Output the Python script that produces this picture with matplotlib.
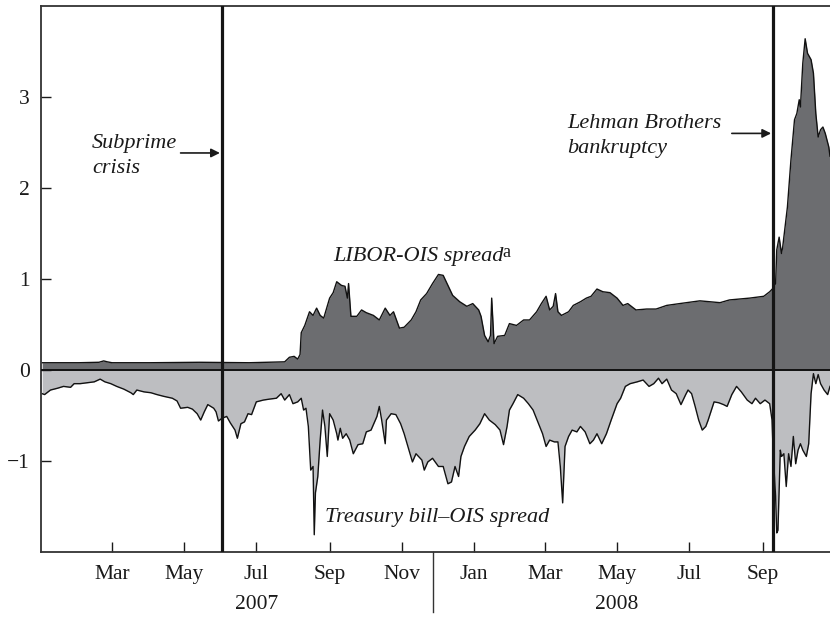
import pandas as pd
import matplotlib
matplotlib.use("Agg")
import matplotlib.pyplot as plt
import matplotlib.dates as mdates
from matplotlib.lines import Line2D

plt.rcParams["font.family"] = ["Liberation Serif", "DejaVu Serif"]
plt.rcParams["axes.unicode_minus"] = True

# ============================
# DATA (percentage points)
# ============================
libor_dates = [
    "2007-01-01", "2007-02-01", "2007-02-18", "2007-02-22", "2007-02-25", "2007-03-01",
    "2007-04-02", "2007-05-14", "2007-06-25", "2007-07-25", "2007-07-29", "2007-08-02",
    "2007-08-05", "2007-08-07", "2007-08-08", "2007-08-11", "2007-08-15", "2007-08-18",
    "2007-08-21", "2007-08-24", "2007-08-27", "2007-09-01", "2007-09-04", "2007-09-07",
    "2007-09-11", "2007-09-14", "2007-09-16", "2007-09-17", "2007-09-19", "2007-09-24",
    "2007-09-28", "2007-10-02", "2007-10-08", "2007-10-13", "2007-10-18", "2007-10-22",
    "2007-10-25", "2007-10-30", "2007-11-03", "2007-11-09", "2007-11-13", "2007-11-17",
    "2007-11-22", "2007-11-27", "2007-12-02", "2007-12-06", "2007-12-10", "2007-12-14",
    "2007-12-20", "2007-12-26", "2007-12-31", "2008-01-05", "2008-01-07", "2008-01-10",
    "2008-01-13", "2008-01-15", "2008-01-16", "2008-01-18", "2008-01-21", "2008-01-27",
    "2008-01-31", "2008-02-06", "2008-02-12", "2008-02-17", "2008-02-23", "2008-02-27",
    "2008-03-02", "2008-03-05", "2008-03-08", "2008-03-10", "2008-03-12", "2008-03-15",
    "2008-03-21", "2008-03-25", "2008-03-31", "2008-04-05", "2008-04-09", "2008-04-14",
    "2008-04-19", "2008-04-25", "2008-05-01", "2008-05-06", "2008-05-10", "2008-05-17",
    "2008-05-26", "2008-06-03", "2008-06-12", "2008-06-23", "2008-07-10", "2008-07-27",
    "2008-08-04", "2008-08-21", "2008-09-02", "2008-09-07", "2008-09-10", "2008-09-12",
    "2008-09-13", "2008-09-15", "2008-09-17", "2008-09-18", "2008-09-22", "2008-09-25",
    "2008-09-28", "2008-09-30", "2008-10-02", "2008-10-03", "2008-10-05", "2008-10-07",
    "2008-10-09", "2008-10-12", "2008-10-14", "2008-10-16", "2008-10-18", "2008-10-20",
    "2008-10-22", "2008-10-24", "2008-10-27", "2008-10-28",
]
libor_ois = [
    0.08, 0.08, 0.085, 0.10, 0.09, 0.08,
    0.08, 0.085, 0.08, 0.09, 0.14, 0.15,
    0.12, 0.17, 0.41, 0.49, 0.64, 0.60,
    0.68, 0.60, 0.57, 0.79, 0.85, 0.97,
    0.93, 0.92, 0.79, 0.95, 0.59, 0.59,
    0.66, 0.63, 0.60, 0.55, 0.68, 0.60,
    0.64, 0.46, 0.47, 0.55, 0.64, 0.77,
    0.84, 0.95, 1.05, 1.04, 0.93, 0.82,
    0.75, 0.70, 0.73, 0.66, 0.59, 0.38,
    0.31, 0.38, 0.79, 0.29, 0.37, 0.38,
    0.51, 0.49, 0.55, 0.55, 0.64, 0.73,
    0.81, 0.66, 0.70, 0.84, 0.64, 0.60,
    0.64, 0.71, 0.75, 0.79, 0.81, 0.89,
    0.86, 0.85, 0.79, 0.71, 0.73, 0.66,
    0.67, 0.67, 0.71, 0.73, 0.76, 0.74,
    0.77, 0.79, 0.81, 0.86, 0.90, 0.95,
    1.32, 1.46, 1.28, 1.35, 1.79, 2.31,
    2.75, 2.82, 2.97, 2.89, 3.37, 3.64,
    3.48, 3.41, 3.26, 2.82, 2.56, 2.64,
    2.67, 2.60, 2.45, 2.35,
]

tbill_dates = [
    "2007-01-01", "2007-01-03", "2007-01-08", "2007-01-14", "2007-01-19", "2007-01-25",
    "2007-01-28", "2007-02-02", "2007-02-08", "2007-02-14", "2007-02-19", "2007-02-23",
    "2007-02-28", "2007-03-05", "2007-03-11", "2007-03-17", "2007-03-19", "2007-03-22",
    "2007-03-28", "2007-04-03", "2007-04-08", "2007-04-14", "2007-04-21", "2007-04-25",
    "2007-04-28", "2007-05-04", "2007-05-08", "2007-05-12", "2007-05-15", "2007-05-18",
    "2007-05-21", "2007-05-26", "2007-05-28", "2007-05-30", "2007-06-02", "2007-06-06",
    "2007-06-09", "2007-06-13", "2007-06-15", "2007-06-18", "2007-06-21", "2007-06-24",
    "2007-06-27", "2007-07-01", "2007-07-07", "2007-07-12", "2007-07-18", "2007-07-22",
    "2007-07-25", "2007-07-29", "2007-08-01", "2007-08-05", "2007-08-08", "2007-08-10",
    "2007-08-12", "2007-08-14", "2007-08-16", "2007-08-18", "2007-08-19", "2007-08-20",
    "2007-08-22", "2007-08-24", "2007-08-26", "2007-08-28", "2007-08-30", "2007-09-01",
    "2007-09-04", "2007-09-07", "2007-09-08", "2007-09-10", "2007-09-12", "2007-09-15",
    "2007-09-18", "2007-09-21", "2007-09-25", "2007-09-29", "2007-10-02", "2007-10-06",
    "2007-10-11", "2007-10-13", "2007-10-15", "2007-10-18", "2007-10-19", "2007-10-23",
    "2007-10-27", "2007-10-31", "2007-11-03", "2007-11-08", "2007-11-10", "2007-11-13",
    "2007-11-18", "2007-11-20", "2007-11-23", "2007-11-27", "2007-12-02", "2007-12-06",
    "2007-12-10", "2007-12-13", "2007-12-16", "2007-12-19", "2007-12-21", "2007-12-24",
    "2007-12-28", "2008-01-02", "2008-01-06", "2008-01-10", "2008-01-14", "2008-01-19",
    "2008-01-23", "2008-01-26", "2008-01-29", "2008-01-31", "2008-02-03", "2008-02-07",
    "2008-02-12", "2008-02-16", "2008-02-20", "2008-02-24", "2008-02-28", "2008-03-02",
    "2008-03-05", "2008-03-09", "2008-03-12", "2008-03-14", "2008-03-16", "2008-03-18",
    "2008-03-21", "2008-03-24", "2008-03-28", "2008-03-31", "2008-04-04", "2008-04-08",
    "2008-04-11", "2008-04-14", "2008-04-18", "2008-04-22", "2008-04-26", "2008-05-01",
    "2008-05-04", "2008-05-08", "2008-05-12", "2008-05-18", "2008-05-23", "2008-05-28",
    "2008-06-01", "2008-06-05", "2008-06-08", "2008-06-12", "2008-06-16", "2008-06-20",
    "2008-06-24", "2008-06-28", "2008-06-30", "2008-07-03", "2008-07-06", "2008-07-09",
    "2008-07-12", "2008-07-15", "2008-07-17", "2008-07-22", "2008-07-26", "2008-07-30",
    "2008-08-02", "2008-08-06", "2008-08-10", "2008-08-14", "2008-08-19", "2008-08-23",
    "2008-08-26", "2008-08-30", "2008-09-03", "2008-09-07", "2008-09-09", "2008-09-10",
    "2008-09-12", "2008-09-13", "2008-09-14", "2008-09-16", "2008-09-17", "2008-09-19",
    "2008-09-21", "2008-09-23", "2008-09-25", "2008-09-27", "2008-09-29", "2008-10-01",
    "2008-10-03", "2008-10-05", "2008-10-08", "2008-10-10", "2008-10-12", "2008-10-14",
    "2008-10-16", "2008-10-18", "2008-10-20", "2008-10-23", "2008-10-26", "2008-10-28",
]
tbill_ois = [
    -0.26, -0.27, -0.22, -0.20, -0.18, -0.19,
    -0.15, -0.15, -0.14, -0.13, -0.10, -0.13,
    -0.15, -0.18, -0.21, -0.25, -0.27, -0.22,
    -0.24, -0.25, -0.27, -0.29, -0.31, -0.34,
    -0.42, -0.41, -0.43, -0.48, -0.55, -0.46,
    -0.38, -0.42, -0.46, -0.56, -0.53, -0.51,
    -0.58, -0.66, -0.75, -0.59, -0.57, -0.48,
    -0.49, -0.35, -0.33, -0.32, -0.31, -0.26,
    -0.33, -0.27, -0.37, -0.35, -0.31, -0.44,
    -0.42, -0.62, -1.10, -1.06, -1.81, -1.35,
    -1.17, -0.77, -0.44, -0.62, -0.95, -0.48,
    -0.55, -0.70, -0.77, -0.64, -0.75, -0.70,
    -0.77, -0.92, -0.82, -0.81, -0.68, -0.66,
    -0.51, -0.40, -0.55, -0.81, -0.55, -0.48,
    -0.49, -0.59, -0.70, -0.92, -1.01, -0.92,
    -0.99, -1.10, -1.01, -0.97, -1.06, -1.06,
    -1.25, -1.23, -1.06, -1.17, -0.95, -0.84,
    -0.73, -0.66, -0.59, -0.48, -0.55, -0.60,
    -0.66, -0.82, -0.62, -0.44, -0.37, -0.27,
    -0.31, -0.37, -0.44, -0.57, -0.70, -0.84,
    -0.77, -0.79, -0.79, -1.06, -1.46, -0.84,
    -0.73, -0.66, -0.68, -0.62, -0.68, -0.81,
    -0.77, -0.70, -0.81, -0.70, -0.55, -0.37,
    -0.31, -0.18, -0.15, -0.13, -0.11, -0.18,
    -0.15, -0.09, -0.15, -0.10, -0.22, -0.26,
    -0.38, -0.27, -0.22, -0.26, -0.40, -0.55,
    -0.66, -0.62, -0.55, -0.35, -0.36, -0.38,
    -0.40, -0.27, -0.18, -0.24, -0.33, -0.37,
    -0.31, -0.37, -0.33, -0.37, -0.55, -0.92,
    -1.39, -1.79, -1.76, -0.88, -0.95, -0.92,
    -1.28, -0.92, -1.06, -0.73, -1.03, -0.88,
    -0.81, -0.88, -0.95, -0.81, -0.26, -0.04,
    -0.15, -0.05, -0.15, -0.22, -0.27, -0.18,
]

event_dates = ["2007-06-02", "2008-09-10"]
month_ticks = ["2007-03-01", "2007-05-01", "2007-07-01", "2007-09-01", "2007-11-01",
               "2008-01-01", "2008-03-01", "2008-05-01", "2008-07-01", "2008-09-01"]
year_labels = ["2007", "2008"]
year_label_dates = ["2007-07-01", "2008-05-01"]
year_divider = "2007-11-27"

DARK = "#6c6d70"
LIGHT = "#bdbec1"

# ============================
# PLOT
# ============================
lib_x = pd.to_datetime(libor_dates)
tb_x = pd.to_datetime(tbill_dates)

fig = plt.figure(figsize=(8.30, 6.17), dpi=100)
ax = fig.add_axes([0.0494, 0.1053, 0.9506, 0.885])

ax.fill_between(lib_x, 0, libor_ois, color=DARK, linewidth=0, zorder=1)
ax.fill_between(tb_x, tbill_ois, 0, color=LIGHT, linewidth=0, zorder=1)
ax.plot(lib_x, libor_ois, color="#111111", lw=1.0, zorder=2)
ax.plot(tb_x, tbill_ois, color="#111111", lw=1.0, zorder=2)
ax.axhline(0, color="#111111", lw=1.4, zorder=3)

for d in event_dates:
    ax.axvline(pd.Timestamp(d), color="#151515", lw=2.3, zorder=4)

ax.set_xlim(pd.Timestamp("2006-12-31"), pd.Timestamp("2008-10-28"))
ax.set_ylim(-2, 4)

ax.set_yticks([-1, 0, 1, 2, 3])
ax.set_yticklabels(["\u22121", "0", "1", "2", "3"])
ax.set_xticks(pd.to_datetime(month_ticks))
ax.xaxis.set_major_formatter(mdates.DateFormatter("%b"))
ax.tick_params(axis="both", direction="in", length=7, width=1, labelsize=15.5,
               colors="#1a1a1a")
ax.tick_params(axis="x", pad=9)
ax.tick_params(axis="y", pad=8)

for side in ["left", "bottom", "top"]:
    ax.spines[side].set_color("#333333")
    ax.spines[side].set_linewidth(1.3)
ax.spines["right"].set_visible(False)

# year labels + divider under the axis
for lab, d in zip(year_labels, year_label_dates):
    ax.text(pd.Timestamp(d), -0.096, lab, transform=ax.get_xaxis_transform(),
            ha="center", va="center", fontsize=15.5, color="#1a1a1a")
ax.add_line(Line2D([pd.Timestamp(year_divider)] * 2, [0, -0.11],
                   transform=ax.get_xaxis_transform(), color="#333333",
                   lw=1.0, clip_on=False))

# annotations (va="baseline" pins the last line of a two-line label)
ax.text(pd.Timestamp("2007-02-12"), 2.165, "Subprime\ncrisis", style="italic",
        fontsize=16, ha="left", va="baseline", linespacing=1.42, color="#1a1a1a")
ax.annotate("", xy=(pd.Timestamp(event_dates[0]), 2.385),
            xytext=(pd.Timestamp("2007-04-28"), 2.385),
            arrowprops=dict(arrowstyle="-|>", color="#1a1a1a", lw=1.2,
                            mutation_scale=13, shrinkA=0, shrinkB=1.5))

ax.text(pd.Timestamp("2008-03-20"), 2.385, "Lehman Brothers\nbankruptcy", style="italic",
        fontsize=16, ha="left", va="baseline", linespacing=1.42, color="#1a1a1a")
ax.annotate("", xy=(pd.Timestamp(event_dates[1]), 2.60),
            xytext=(pd.Timestamp("2008-08-06"), 2.60),
            arrowprops=dict(arrowstyle="-|>", color="#1a1a1a", lw=1.2,
                            mutation_scale=13, shrinkA=0, shrinkB=1.5))

lib_txt = ax.text(pd.Timestamp("2007-09-04"), 1.20, "LIBOR-OIS spread", style="italic",
                  fontsize=16, ha="left", va="baseline", color="#1a1a1a")
ax.annotate("a", xy=(1, 0), xycoords=lib_txt, xytext=(-0.5, 6), textcoords="offset points",
            fontsize=13, ha="left", va="baseline", color="#1a1a1a")

ax.text(pd.Timestamp("2007-08-28"), -1.667, "Treasury bill\u2013OIS spread", style="italic",
        fontsize=16, ha="left", va="baseline", color="#1a1a1a")

fig.savefig("out.png", dpi=100)
